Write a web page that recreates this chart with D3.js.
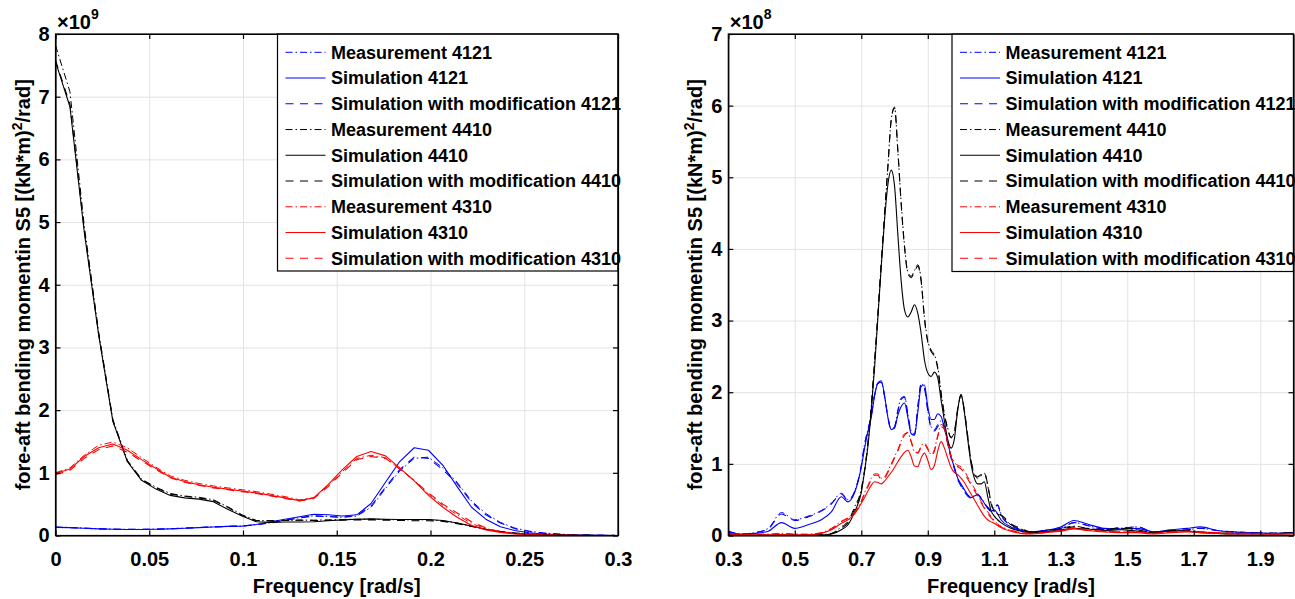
<!DOCTYPE html>
<html><head><meta charset="utf-8">
<script src="https://cdn.jsdelivr.net/npm/d3@7"></script>
<style>
body{margin:0;background:#fff}
svg{display:block}
text{font-family:Arial,"Liberation Sans",Helvetica,sans-serif;font-weight:bold;fill:#000}
</style>
</head><body>
<svg id="chart" width="1295" height="599"></svg>
<script>
// ---------- DATA ----------
const seriesLabels = ["Measurement 4121","Simulation 4121","Simulation with modification 4121",
  "Measurement 4410","Simulation 4410","Simulation with modification 4410",
  "Measurement 4310","Simulation 4310","Simulation with modification 4310"];

// Left panel (values x 1e9)
const leftXTicks = [0,0.05,0.1,0.15,0.2,0.25,0.3];
const leftXTickLabels = ["0","0.05","0.1","0.15","0.2","0.25","0.3"];
const leftYTicks = [0,1,2,3,4,5,6,7,8];
const leftFreq = [0,0.0077,0.0153,0.0230,0.0306,0.0383,0.0459,0.0536,0.0612,0.0689,0.0765,0.0842,0.0918,0.0995,0.1071,0.1148,0.1224,0.1301,0.1377,0.1454,0.1530,0.1607,0.1683,0.1760,0.1836,0.1913,0.1989,0.2066,0.2142,0.2219,0.2295,0.2372,0.2448,0.2525,0.2601,0.2678,0.2754,0.2831,0.2907,0.2984];
const leftMeas4121 = [0.135,0.128,0.118,0.108,0.102,0.098,0.098,0.102,0.108,0.118,0.128,0.138,0.146,0.152,0.172,0.205,0.245,0.285,0.315,0.305,0.29,0.31,0.45,0.75,1.03,1.23,1.25,1.08,0.85,0.55,0.35,0.21,0.12,0.07,0.04,0.025,0.014,0.008,0.004,0.002];
const leftSim4121 = [0.13,0.125,0.115,0.105,0.1,0.095,0.095,0.1,0.105,0.115,0.125,0.135,0.145,0.15,0.175,0.22,0.26,0.3,0.34,0.33,0.31,0.33,0.51,0.85,1.18,1.4,1.36,1.12,0.78,0.45,0.26,0.14,0.08,0.045,0.025,0.015,0.008,0.004,0.002,0.001];
const leftMod4121 = [0.132,0.126,0.116,0.106,0.1,0.097,0.097,0.101,0.107,0.117,0.127,0.137,0.145,0.152,0.17,0.2,0.24,0.28,0.31,0.3,0.29,0.32,0.47,0.77,1.05,1.25,1.23,1.05,0.83,0.53,0.33,0.2,0.11,0.065,0.038,0.022,0.013,0.007,0.004,0.002];
const leftMeas4410 = [7.82,7.08,4.95,3.25,1.85,1.2,0.9,0.77,0.67,0.63,0.61,0.57,0.46,0.33,0.24,0.235,0.24,0.245,0.245,0.25,0.255,0.26,0.26,0.255,0.25,0.25,0.25,0.235,0.2,0.15,0.1,0.065,0.04,0.022,0.012,0.007,0.004,0.002,0.001,0.001];
const leftSim4410 = [7.56,6.84,4.85,3.2,1.82,1.18,0.88,0.74,0.64,0.6,0.58,0.54,0.42,0.31,0.22,0.21,0.215,0.215,0.22,0.235,0.25,0.26,0.265,0.26,0.255,0.255,0.255,0.24,0.2,0.15,0.1,0.06,0.035,0.02,0.011,0.006,0.003,0.002,0.001,0.001];
const leftMod4410 = [7.58,6.88,4.88,3.22,1.83,1.19,0.89,0.76,0.66,0.625,0.6,0.56,0.45,0.32,0.235,0.235,0.24,0.245,0.24,0.24,0.245,0.25,0.25,0.245,0.24,0.235,0.235,0.225,0.19,0.145,0.1,0.065,0.04,0.022,0.012,0.007,0.004,0.002,0.001,0.001];
const leftMeas4310 = [1.0,1.08,1.28,1.44,1.49,1.4,1.24,1.09,0.95,0.88,0.83,0.79,0.76,0.73,0.7,0.66,0.62,0.57,0.6,0.8,1.02,1.23,1.28,1.24,1.06,0.88,0.66,0.48,0.33,0.19,0.11,0.06,0.03,0.015,0.007,0.004,0.002,0.001,0.001,0];
const leftSim4310 = [0.99,1.06,1.26,1.4,1.46,1.36,1.21,1.07,0.93,0.86,0.81,0.77,0.74,0.71,0.68,0.64,0.6,0.556,0.6,0.81,1.05,1.26,1.34,1.27,1.08,0.87,0.64,0.45,0.29,0.16,0.09,0.05,0.025,0.013,0.006,0.003,0.002,0.001,0.001,0];
const leftMod4310 = [0.97,1.04,1.23,1.37,1.43,1.33,1.19,1.05,0.92,0.85,0.8,0.76,0.73,0.7,0.67,0.63,0.59,0.55,0.59,0.78,1.0,1.21,1.26,1.23,1.06,0.88,0.68,0.5,0.36,0.22,0.12,0.06,0.03,0.015,0.007,0.004,0.002,0.001,0.001,0];

// Right panel (values x 1e8)
const rightXTicks = [0.3,0.5,0.7,0.9,1.1,1.3,1.5,1.7,1.9];
const rightXTickLabels = ["0.3","0.5","0.7","0.9","1.1","1.3","1.5","1.7","1.9"];
const rightYTicks = [0,1,2,3,4,5,6,7];
const rightFreq = [0.30,0.34,0.38,0.42,0.46,0.50,0.54,0.58,0.61,0.64,0.66,0.68,0.70,
  0.71,0.72,0.73,0.74,0.75,0.76,0.77,0.78,0.79,0.80,
  0.81,0.82,0.83,0.84,0.85,0.86,0.87,0.88,0.89,0.90,
  0.91,0.92,0.93,0.94,0.95,0.96,0.97,0.98,0.99,1.00,
  1.01,1.02,1.03,1.04,1.05,1.06,1.07,1.08,1.09,1.10,
  1.11,1.12,
  1.15,1.18,1.21,1.25,1.30,1.34,1.38,1.43,1.48,1.53,1.58,1.63,1.68,1.72,1.77,1.82,1.88,1.94,2.00];
const rightMeas4121 = [0.06,0.02,0.04,0.1,0.32,0.22,0.27,0.35,0.45,0.59,0.5,0.62,0.98,
  1.28,1.48,1.68,1.97,2.13,2.14,1.95,1.66,1.48,1.52,
  1.75,1.92,1.94,1.7,1.46,1.42,1.8,2.12,2.06,1.75,
  1.52,1.48,1.55,1.6,1.52,1.3,1.1,0.95,0.8,0.7,
  0.62,0.56,0.53,0.56,0.58,0.53,0.46,0.4,0.36,0.4,
  0.43,0.3,
  0.15,0.08,0.05,0.07,0.1,0.18,0.14,0.09,0.1,0.12,0.05,0.07,0.08,0.1,0.07,0.05,0.04,0.03,0.04];
const rightSim4121 = [0.05,0.02,0.03,0.06,0.18,0.1,0.15,0.22,0.33,0.54,0.47,0.6,0.95,
  1.22,1.45,1.65,1.95,2.13,2.16,1.95,1.65,1.48,1.5,
  1.68,1.8,1.85,1.65,1.42,1.4,1.72,2.08,2.1,1.8,
  1.62,1.62,1.7,1.66,1.5,1.3,1.1,0.95,0.8,0.72,
  0.64,0.57,0.53,0.55,0.57,0.52,0.45,0.38,0.34,0.36,
  0.3,0.22,
  0.12,0.07,0.05,0.07,0.12,0.21,0.16,0.1,0.09,0.1,0.05,0.08,0.1,0.12,0.07,0.05,0.04,0.03,0.04];
const rightMod4121 = [0.055,0.02,0.04,0.09,0.3,0.21,0.26,0.34,0.44,0.58,0.49,0.61,0.97,
  1.27,1.47,1.67,1.96,2.12,2.14,1.94,1.65,1.47,1.51,
  1.73,1.9,1.93,1.68,1.44,1.41,1.79,2.11,2.05,1.74,
  1.5,1.46,1.52,1.58,1.5,1.28,1.08,0.93,0.78,0.69,
  0.61,0.55,0.52,0.55,0.57,0.52,0.45,0.39,0.35,0.39,
  0.42,0.29,
  0.14,0.08,0.05,0.07,0.1,0.18,0.14,0.09,0.1,0.12,0.05,0.07,0.08,0.1,0.07,0.05,0.04,0.03,0.04];
const rightMeas4410 = [0.03,0.01,0.005,0.005,0.005,0.005,0.005,0.01,0.03,0.12,0.2,0.4,0.65,
  0.92,1.3,1.8,2.45,3.1,3.8,4.45,5.15,5.8,5.98,
  5.35,4.65,4.05,3.68,3.62,3.7,3.78,3.57,3.05,2.72,
  2.59,2.52,2.35,2.0,1.7,1.5,1.36,1.45,1.75,1.96,
  1.75,1.4,1.05,0.85,0.8,0.83,0.87,0.7,0.45,0.33,
  0.3,0.28,
  0.15,0.09,0.05,0.06,0.1,0.13,0.1,0.08,0.1,0.08,0.04,0.06,0.07,0.05,0.04,0.03,0.03,0.03,0.04];
const rightSim4410 = [0.02,0.005,0.003,0.003,0.003,0.003,0.003,0.005,0.02,0.08,0.15,0.33,0.6,
  0.9,1.25,1.75,2.35,3.05,3.75,4.4,4.9,5.1,4.88,
  4.2,3.55,3.15,3.05,3.12,3.22,3.1,2.82,2.45,2.27,
  2.22,2.28,2.2,1.89,1.6,1.34,1.22,1.35,1.75,1.97,
  1.72,1.35,1.0,0.8,0.72,0.72,0.75,0.55,0.35,0.27,
  0.22,0.18,
  0.1,0.06,0.04,0.05,0.08,0.1,0.09,0.07,0.08,0.06,0.04,0.07,0.06,0.04,0.03,0.02,0.02,0.02,0.03];
const rightMod4410 = [0.025,0.008,0.004,0.004,0.004,0.004,0.004,0.008,0.025,0.1,0.18,0.37,0.63,
  0.91,1.28,1.78,2.4,3.08,3.8,4.5,5.15,5.8,5.97,
  5.38,4.62,4.02,3.66,3.6,3.68,3.76,3.55,3.02,2.7,
  2.57,2.5,2.33,1.97,1.68,1.48,1.37,1.45,1.77,1.96,
  1.74,1.38,1.05,0.87,0.82,0.85,0.88,0.72,0.47,0.34,
  0.31,0.29,
  0.16,0.1,0.05,0.06,0.09,0.12,0.1,0.08,0.11,0.08,0.04,0.06,0.07,0.05,0.04,0.03,0.03,0.03,0.04];
const rightMeas4310 = [0.03,0.02,0.02,0.02,0.03,0.02,0.02,0.04,0.1,0.2,0.25,0.33,0.48,
  0.6,0.7,0.8,0.86,0.86,0.8,0.82,0.9,1.0,1.1,
  1.2,1.32,1.42,1.43,1.3,1.17,1.16,1.25,1.29,1.22,
  1.13,1.2,1.4,1.55,1.5,1.3,1.12,1.02,0.98,0.96,
  0.9,0.82,0.74,0.66,0.57,0.48,0.4,0.33,0.27,0.21,
  0.16,0.13,
  0.07,0.04,0.03,0.04,0.07,0.1,0.08,0.06,0.05,0.05,0.03,0.05,0.06,0.05,0.04,0.03,0.03,0.02,0.03];
const rightSim4310 = [0.02,0.01,0.01,0.01,0.015,0.01,0.01,0.03,0.08,0.17,0.22,0.3,0.45,
  0.53,0.62,0.7,0.75,0.74,0.72,0.76,0.82,0.88,0.95,
  1.03,1.1,1.16,1.19,1.1,0.97,0.96,1.08,1.15,1.05,
  0.92,0.98,1.18,1.31,1.22,1.08,0.95,0.88,0.85,0.8,
  0.74,0.66,0.58,0.5,0.42,0.34,0.27,0.22,0.19,0.17,
  0.14,0.11,
  0.06,0.03,0.02,0.04,0.06,0.09,0.07,0.05,0.04,0.04,0.02,0.04,0.05,0.04,0.03,0.02,0.02,0.02,0.02];
const rightMod4310 = [0.025,0.015,0.015,0.015,0.025,0.015,0.015,0.035,0.09,0.19,0.24,0.32,0.47,
  0.58,0.68,0.78,0.84,0.84,0.78,0.8,0.88,0.98,1.08,
  1.18,1.3,1.4,1.44,1.32,1.18,1.15,1.23,1.27,1.2,
  1.12,1.18,1.38,1.52,1.48,1.28,1.1,1.0,0.96,0.93,
  0.87,0.79,0.71,0.63,0.55,0.46,0.38,0.31,0.25,0.2,
  0.15,0.12,
  0.07,0.04,0.03,0.04,0.07,0.1,0.08,0.06,0.05,0.05,0.03,0.05,0.06,0.05,0.04,0.03,0.03,0.02,0.03];

// ---------- STYLE ----------
const seriesColors = ["#0000ff","#0000ff","#0000ff","#000000","#000000","#000000","#ff0000","#ff0000","#ff0000"];
const DASHDOT = "7,3,1.5,3", DASHED = "8,6.5";
const seriesDash = [DASHDOT,null,DASHED,DASHDOT,null,DASHED,DASHDOT,null,DASHED];
const seriesWidth = [1,1.1,1.1,1,1.1,1.1,1,1.1,1.1];

const Y0 = 535.5, Y1 = 34;
const panels = [
  {id:"L", freq:leftFreq, vals:[leftMeas4121,leftSim4121,leftMod4121,leftMeas4410,leftSim4410,leftMod4410,leftMeas4310,leftSim4310,leftMod4310],
   xDomain:[0,0.3], yDomain:[0,8], xTicks:leftXTicks, xLabels:leftXTickLabels, yTicks:leftYTicks,
   x0:55.5, x1:618, expo:"9", legX:277.5, legBottom:271, ylabX:23, curve:d3.curveLinear},
  {id:"R", freq:rightFreq, vals:[rightMeas4121,rightSim4121,rightMod4121,rightMeas4410,rightSim4410,rightMod4410,rightMeas4310,rightSim4310,rightMod4310],
   xDomain:[0.3,2.0], yDomain:[0,7], xTicks:rightXTicks, xLabels:rightXTickLabels, yTicks:rightYTicks,
   x0:728.3, x1:1293.5, expo:"8", legX:952, legBottom:271.5, ylabX:695, curve:d3.curveMonotoneX}
];

const svg = d3.select("#chart");
svg.append("rect").attr("width",1295).attr("height",599).attr("fill","#fff");

panels.forEach(p => {
  const x = d3.scaleLinear().domain(p.xDomain).range([p.x0, p.x1]);
  const y = d3.scaleLinear().domain(p.yDomain).range([Y0, Y1]);
  const g = svg.append("g");

  // grid
  g.append("g").attr("transform",`translate(0,${Y0})`)
    .call(d3.axisBottom(x).tickValues(p.xTicks).tickSize(-(Y0-Y1)).tickFormat(""))
    .call(s => { s.select(".domain").remove(); s.selectAll("line").attr("stroke","#e3e3e3").attr("stroke-width",1); });
  g.append("g").attr("transform",`translate(${p.x0},0)`)
    .call(d3.axisLeft(y).tickValues(p.yTicks).tickSize(-(p.x1-p.x0)).tickFormat(""))
    .call(s => { s.select(".domain").remove(); s.selectAll("line").attr("stroke","#e3e3e3").attr("stroke-width",1); });

  // clip
  svg.append("clipPath").attr("id","clip"+p.id).append("rect")
    .attr("x",p.x0).attr("y",Y1).attr("width",p.x1-p.x0).attr("height",Y0-Y1);

  const line = d3.line().curve(p.curve).x(d=>x(d[0])).y(d=>y(d[1]));
  const lg = g.append("g").attr("clip-path",`url(#clip${p.id})`);
  p.vals.forEach((vals,i) => {
    const pts = p.freq.map((f,k)=>[f, vals[k]]);
    lg.append("path").datum(pts).attr("d",line).attr("fill","none")
      .attr("stroke",seriesColors[i]).attr("stroke-width",seriesWidth[i])
      .attr("stroke-dasharray",seriesDash[i]).attr("stroke-linejoin","round");
  });

  // axes with inward ticks
  const styleAxis = s => {
    s.select(".domain").attr("stroke","#000").attr("stroke-width",1.2);
    s.selectAll(".tick line").attr("stroke","#000").attr("stroke-width",1.2);
    s.selectAll("text").attr("font-size",20).attr("font-weight","bold").attr("fill","#000")
      .attr("font-family","Arial, 'Liberation Sans', Helvetica, sans-serif");
    s.attr("font-size",null).attr("font-family",null);
  };
  g.append("g").attr("transform",`translate(0,${Y0})`)
    .call(d3.axisBottom(x).tickValues(p.xTicks).tickFormat((d,i)=>p.xLabels[i]).tickSizeInner(-5).tickSizeOuter(0).tickPadding(16))
    .call(styleAxis);
  g.append("g").attr("transform",`translate(0,${Y1})`)
    .call(d3.axisTop(x).tickValues(p.xTicks).tickFormat("").tickSizeInner(-5).tickSizeOuter(0))
    .call(styleAxis);
  g.append("g").attr("transform",`translate(${p.x0},0)`)
    .call(d3.axisLeft(y).tickValues(p.yTicks).tickFormat(d3.format("d")).tickSizeInner(-5).tickSizeOuter(0).tickPadding(6))
    .call(styleAxis);
  g.append("g").attr("transform",`translate(${p.x1},0)`)
    .call(d3.axisRight(y).tickValues(p.yTicks).tickFormat("").tickSizeInner(-5).tickSizeOuter(0))
    .call(styleAxis);

  // exponent
  const ex = g.append("text").attr("x",p.x0+1.5).attr("y",28.5).attr("font-size",20);
  ex.append("tspan").text("\u00d710");
  ex.append("tspan").attr("font-size",14).attr("dy",-10).text(p.expo);

  // axis titles
  g.append("text").attr("x",(p.x0+p.x1)/2).attr("y",593).attr("text-anchor","middle")
    .attr("font-size",20).text("Frequency [rad/s]");
  const yl = g.append("text").attr("transform",`translate(${p.ylabX},${(Y0+Y1)/2}) rotate(-90)`)
    .attr("text-anchor","middle").attr("dy","0.35em").attr("font-size",20);
  yl.append("tspan").text("fore-aft bending momentin S5 [(kN*m)");
  yl.append("tspan").attr("font-size",14).attr("dy",-8).text("2");
  yl.append("tspan").attr("dy",8).text("/rad]");

  // legend
  const leg = g.append("g");
  leg.append("rect").attr("x",p.legX).attr("y",Y1).attr("width",p.x1-p.legX).attr("height",p.legBottom-Y1)
    .attr("fill","#fff").attr("stroke","#000").attr("stroke-width",1.2);
  seriesLabels.forEach((lab,i) => {
    const cy = 52.3 + i*25.75;
    leg.append("line").attr("x1",p.legX+8).attr("x2",p.legX+48).attr("y1",cy).attr("y2",cy)
      .attr("stroke",seriesColors[i]).attr("stroke-width",seriesWidth[i]).attr("stroke-dasharray",seriesDash[i]);
    leg.append("text").attr("x",p.legX+53.5).attr("y",cy).attr("dy","0.35em").attr("font-size",18).text(lab);
  });

  // box
  g.append("rect").attr("x",p.x0).attr("y",Y1).attr("width",p.x1-p.x0).attr("height",Y0-Y1)
    .attr("fill","none").attr("stroke","#000").attr("stroke-width",1.2);
});
</script>
</body></html>
